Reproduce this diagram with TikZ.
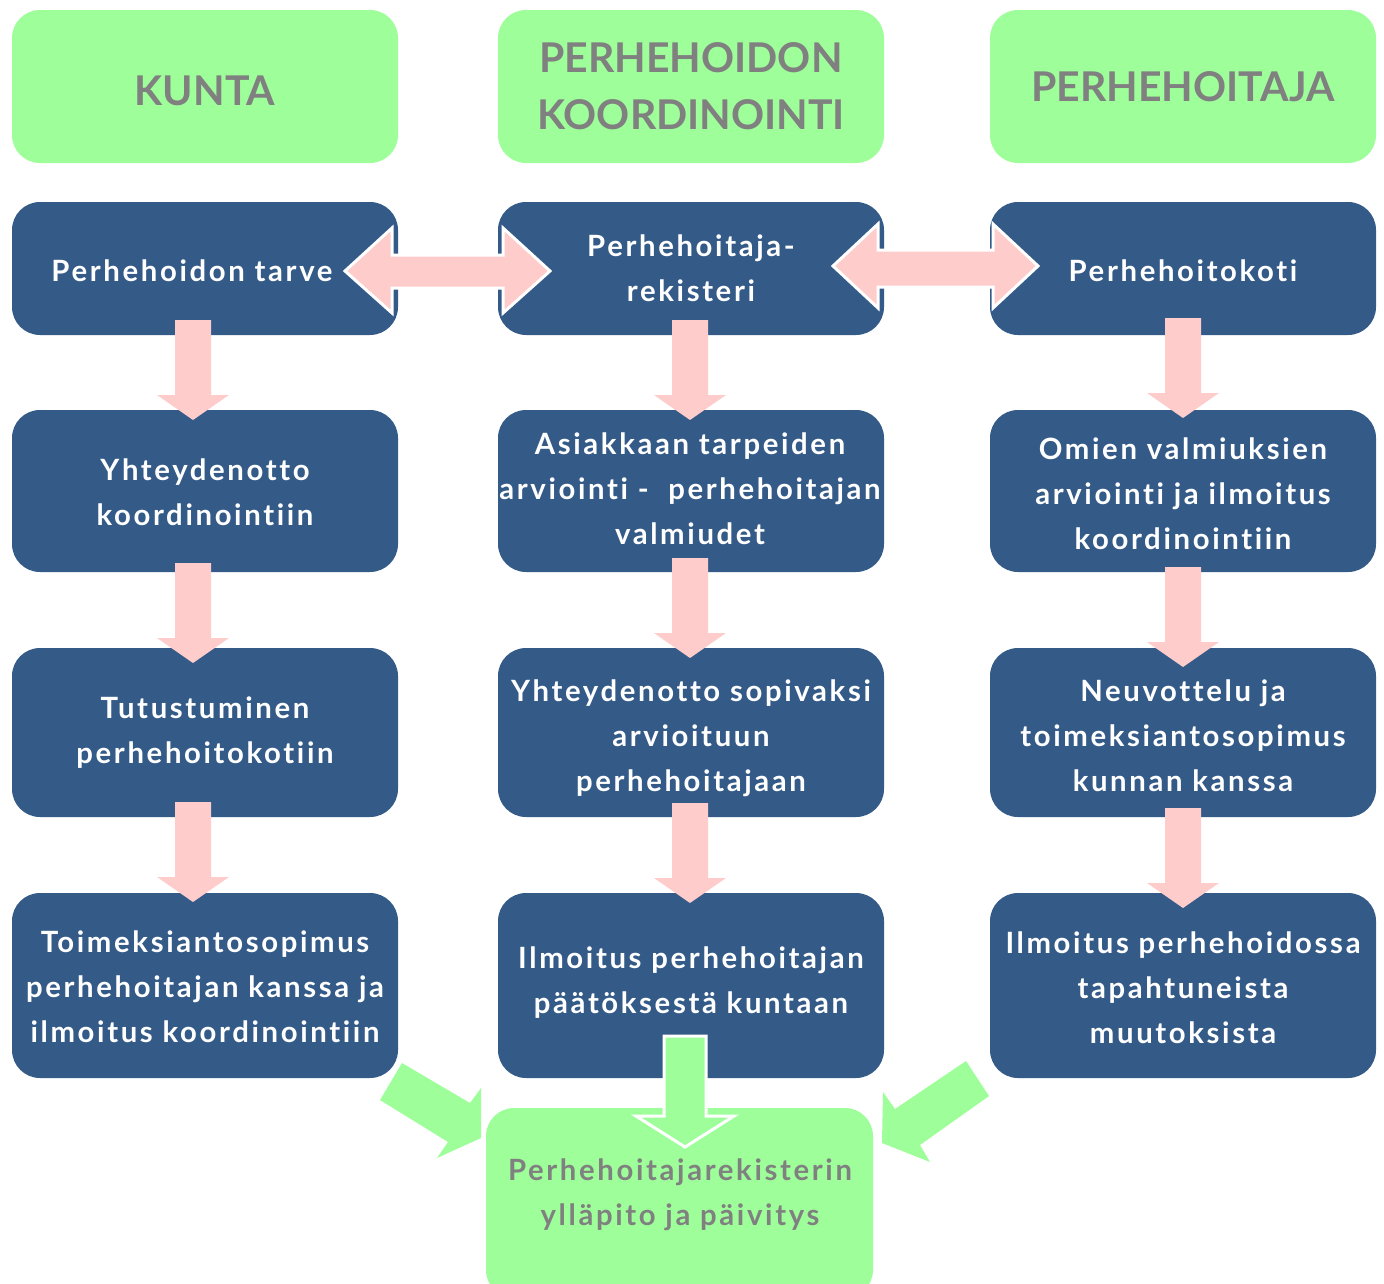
\documentclass[tikz,border=0pt]{standalone}
\usepackage{fontspec}
\setmainfont{Lato}[Ligatures=NoCommon]
\newfontfamily\spacedfont{Lato}[LetterSpace=9,Ligatures=NoCommon]
\definecolor{hdrgreen}{RGB}{158,255,154}
\definecolor{boxblue}{RGB}{52,90,136}
\definecolor{pinkc}{RGB}{255,204,204}
\definecolor{greytxt}{RGB}{128,128,128}
\newcommand\vblock[8]{\path[#1] (#2-#6,#3) -- (#2+#6,#3) -- (#2+#6,#4) -- (#2+#7,#4) -- (#2,#5) -- (#2-#7,#4) -- (#2-#6,#4) -- cycle;}
\begin{document}
\begin{tikzpicture}[x=1pt,y=-1pt,
  hdr/.style={rectangle, rounded corners=28pt, fill=hdrgreen, text=greytxt, minimum width=386pt, minimum height=153pt, inner sep=0pt, align=center, font=\bfseries\fontsize{41}{57}\selectfont},
  bluebox/.style={rectangle, rounded corners=28pt, fill=boxblue, minimum width=386pt, inner sep=0pt},
  txt/.style={text=white, align=center, inner sep=0pt, font=\spacedfont\bfseries\fontsize{29.3}{45}\selectfont},
  gbox/.style={rectangle, rounded corners=28pt, fill=hdrgreen, minimum width=387pt, minimum height=190pt, inner sep=0pt},
  gtxt/.style={text=greytxt, align=center, inner sep=0pt, font=\spacedfont\bfseries\fontsize{29.3}{45}\selectfont},
  pinkarrow/.style={fill=pinkc},
  dblarrow/.style={fill=pinkc, draw=white, line width=3pt, line join=miter},
  greenarrow/.style={fill=hdrgreen},
  greendown/.style={fill=hdrgreen, draw=white, line width=3pt, line join=miter}]
\useasboundingbox (0,0) rectangle (1384,1283);
\clip (0,0) rectangle (1384,1283);
\fill[white] (0,0) rectangle (1384,1283);
% headers
\node[hdr] (h1) at (205,86.5) {};
\node[text=greytxt, inner sep=0pt, font=\bfseries\fontsize{41}{57}\selectfont] (h1t) at (205,91) {KUNTA};
\node[hdr] (h2) at (691,86.5) {PERHEHOIDON\\KOORDINOINTI};
\node[hdr] (h3) at (1183,86.5) {PERHEHOITAJA};
% row 1
\node[bluebox, minimum height=133pt] (a1) at (205,268.5) {};
\node[bluebox, minimum height=133pt] (b1) at (691,268.5) {};
\node[bluebox, minimum height=133pt] (c1) at (1183,268.5) {};
% row 2
\node[bluebox, minimum height=162pt] (a2) at (205,491) {};
\node[bluebox, minimum height=162pt] (b2) at (691,491) {};
\node[bluebox, minimum height=162pt] (c2) at (1183,491) {};
% row 3
\node[bluebox, minimum height=169pt] (a3) at (205,732.5) {};
\node[bluebox, minimum height=169pt] (b3) at (691,732.5) {};
\node[bluebox, minimum height=169pt] (c3) at (1183,732.5) {};
% row 4
\node[bluebox, minimum height=185pt] (a4) at (205,985.5) {};
\node[bluebox, minimum height=185pt] (b4) at (691,985.5) {};
\node[bluebox, minimum height=185pt] (c4) at (1183,985.5) {};
% bottom green
\node[gbox] (g) at (679.5,1203) {};
% texts
\node[txt] (ta1) at (192,271) {Perhehoidon tarve};
\node[txt] (tb1) at (691,268) {Perhehoitaja-\\rekisteri};
\node[txt] (tc1) at (1183,271) {Perhehoitokoti};
\node[txt] (ta2) at (205,492) {Yhteydenotto\\koordinointiin};
\node[txt] (tb2) at (690,489) {Asiakkaan tarpeiden\\arviointi -\ \ perhehoitajan\\valmiudet};
\node[txt] (tc2) at (1183,494) {Omien valmiuksien\\arviointi ja ilmoitus\\koordinointiin};
\node[txt] (ta3) at (205,732.5) {Tutustuminen\\perhehoitokotiin};
\node[txt] (tb3) at (691,738) {Yhteydenotto sopivaksi\\arvioituun\\perhehoitajaan};
\node[txt] (tc3) at (1183,736) {Neuvottelu ja\\toimeksiantosopimus\\kunnan kanssa};
\node[txt] (ta4) at (205,986.5) {Toimeksiantosopimus\\perhehoitajan kanssa ja\\ilmoitus koordinointiin};
\node[txt] (tb4) at (691,983) {Ilmoitus perhehoitajan\\päätöksestä kuntaan};
\node[txt] (tc4) at (1183,988) {Ilmoitus perhehoidossa\\tapahtuneista\\muutoksista};
% vertical pink arrows
\vblock{pinkarrow}{193}{320}{395}{420}{18}{36}{}
\vblock{pinkarrow}{193}{563}{638}{663}{18}{36}{}
\vblock{pinkarrow}{193}{802}{877}{902}{18}{36}{}
\vblock{pinkarrow}{690}{320}{395}{420}{18}{36}{}
\vblock{pinkarrow}{690}{558}{633}{658}{18}{36}{}
\vblock{pinkarrow}{690}{803}{878}{903}{18}{36}{}
\vblock{pinkarrow}{1183}{318}{393}{418}{18}{36}{}
\vblock{pinkarrow}{1183}{567}{642}{667}{18}{36}{}
\vblock{pinkarrow}{1183}{808}{883}{908}{18}{36}{}
% horizontal double arrows
\path[dblarrow] (345,271) -- (392,228) -- (392,255) -- (503,255) -- (503,228) -- (550,271) -- (503,313) -- (503,288) -- (392,288) -- (392,313) -- cycle;
\path[dblarrow] (833,266) -- (878,224) -- (878,250) -- (993,250) -- (993,224) -- (1038,266) -- (993,308) -- (993,287) -- (878,287) -- (878,308) -- cycle;
% green arrows to bottom box
\path[greenarrow] (402,1063) -- (470,1103) -- (481,1088) -- (481,1138) -- (437,1158) -- (448,1142) -- (380,1100) -- cycle;
\path[greenarrow] (966,1061) -- (989,1096) -- (920,1145) -- (930,1162) -- (882,1143) -- (883,1092) -- (895,1109) -- cycle;
\vblock{greendown}{685}{1036}{1116}{1147}{21}{49}{}
\node[gtxt] (tg) at (680,1195) {Perhehoitajarekisterin\\ylläpito ja päivitys};
\end{tikzpicture}
\end{document}
